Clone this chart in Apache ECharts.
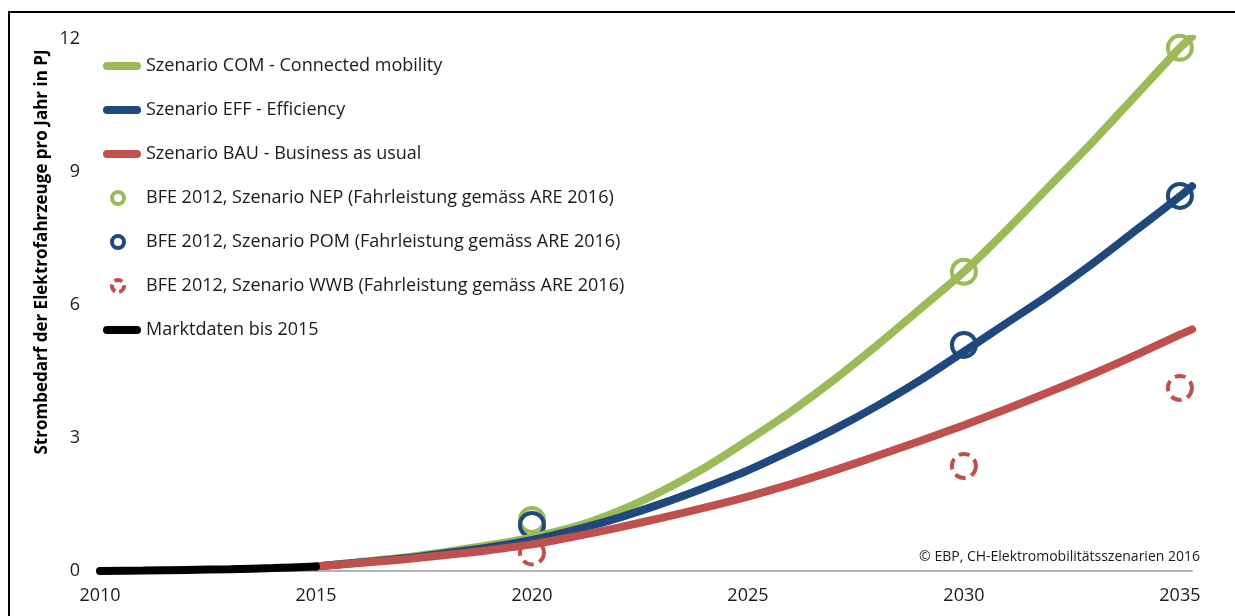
<!DOCTYPE html>
<html>
<head>
<meta charset="utf-8">
<script src="https://cdn.jsdelivr.net/npm/echarts@6/dist/echarts.min.js"></script>
<style>
  html, body { margin: 0; padding: 0; background: #fff; }
  #chart { width: 1235px; height: 616px; }
  /* schwarzer Rahmen oben/links */
  #frame { position: absolute; left: 8px; top: 11px; right: 0; bottom: 0;
           border-top: 2px solid #000; border-left: 2px solid #000; pointer-events: none; }
</style>
</head>
<body>
<div id="chart"></div>
<div id="frame"></div>
<script>
// Marktdaten
var histYears = [2010, 2011, 2012, 2013, 2014, 2015];
var histValues = [0, 0.01, 0.025, 0.04, 0.065, 0.1];

// Szenarien (PJ)
var scenYears = [2015, 2016, 2017, 2018, 2019, 2020, 2021, 2022, 2023, 2024, 2025,
                 2026, 2027, 2028, 2029, 2030, 2031, 2032, 2033, 2034, 2035, 2035.28];
var comValues = [0.1, 0.2, 0.3, 0.43, 0.58, 0.76, 1.0, 1.35, 1.8, 2.33, 2.95,
                 3.6, 4.32, 5.1, 5.92, 6.75, 7.7, 8.7, 9.7, 10.75, 11.8, 12.05];
var effValues = [0.1, 0.19, 0.28, 0.4, 0.53, 0.7, 0.93, 1.2, 1.52, 1.88, 2.27,
                 2.72, 3.2, 3.73, 4.31, 4.95, 5.6, 6.25, 6.95, 7.7, 8.45, 8.68];
var bauValues = [0.1, 0.18, 0.26, 0.36, 0.47, 0.6, 0.78, 0.98, 1.2, 1.43, 1.68,
                 1.96, 2.27, 2.6, 2.94, 3.29, 3.66, 4.05, 4.45, 4.88, 5.33, 5.45];

// BFE 2012
var bfeYears = [2020, 2030, 2035];
var nepValues = [1.15, 6.75, 11.8];
var pomValues = [1.04, 5.1, 8.46];
var wwbValues = [0.42, 2.37, 4.13];

var xTicks = [2010, 2015, 2020, 2025, 2030, 2035];

var GREEN = '#9BBB59', BLUE = '#1F497D', RED = '#C0504D';
var FONT = '"Open Sans", "Noto Sans", sans-serif';

function pairs(xs, ys) {
  return xs.map(function (x, i) { return [x, ys[i]]; });
}

var pill = 'path://M4,0 L34,0 A4,4 0 0 1 34,8 L4,8 A4,4 0 0 1 4,0 Z';

function lineSeries(name, xs, ys, color) {
  return {
    name: name, type: 'line', data: pairs(xs, ys), smooth: 0.3,
    showSymbol: false, symbol: 'none', z: 3,
    lineStyle: { color: color, width: 8, cap: 'round' },
    itemStyle: { color: color }
  };
}

function ringSeries(name, ys, color, dashed) {
  return {
    name: name, type: 'scatter', data: pairs(bfeYears, ys), symbol: 'circle',
    symbolSize: 24, z: 2,
    itemStyle: { color: 'rgba(0,0,0,0)', borderColor: color, borderWidth: 4, opacity: 1,
                 borderType: dashed ? [11, 6] : 'solid' }
  };
}

var legendText = { fontFamily: FONT, fontSize: 18, color: '#1a1a1a' };

var chart = echarts.init(document.getElementById('chart'));
chart.setOption({
  animation: false,
  grid: { left: 100, right: 43, top: 39, bottom: 45 },
  legend: [{
    left: 98, top: 52, orient: 'vertical', itemWidth: 38, itemHeight: 8, itemGap: 26,
    textStyle: legendText,
    data: [
      { name: 'Szenario COM - Connected mobility', icon: pill },
      { name: 'Szenario EFF - Efficiency', icon: pill },
      { name: 'Szenario BAU - Business as usual', icon: pill }
    ]
  }, {
    left: 105, top: 184, orient: 'vertical', itemWidth: 38, itemHeight: 12, itemGap: 26,
    textStyle: { fontFamily: FONT, fontSize: 18, color: '#1a1a1a', padding: [0, 0, 0, 4] },
    data: [
      { name: 'BFE 2012, Szenario NEP (Fahrleistung gemäss ARE 2016)', icon: 'circle',
        itemStyle: { color: 'rgba(0,0,0,0)', borderColor: GREEN, borderWidth: 4, opacity: 1 } },
      { name: 'BFE 2012, Szenario POM (Fahrleistung gemäss ARE 2016)', icon: 'circle',
        itemStyle: { color: 'rgba(0,0,0,0)', borderColor: BLUE, borderWidth: 4, opacity: 1 } },
      { name: 'BFE 2012, Szenario WWB (Fahrleistung gemäss ARE 2016)', icon: 'circle',
        itemStyle: { color: 'rgba(0,0,0,0)', borderColor: RED, borderWidth: 4, opacity: 1, borderType: [8, 4] } }
    ]
  }, {
    left: 98, top: 316, orient: 'vertical', itemWidth: 38, itemHeight: 8,
    textStyle: legendText,
    data: [{ name: 'Marktdaten bis 2015', icon: pill }]
  }],
  xAxis: {
    type: 'value', min: 2010, max: 2035.28, interval: 5,
    axisLine: { lineStyle: { color: '#B4B4B4', width: 2 } },
    axisTick: { show: false },
    splitLine: { show: false },
    axisLabel: {
      margin: 16, fontFamily: FONT, fontSize: 18, color: '#1a1a1a',
      formatter: function (v) { return xTicks.indexOf(v) >= 0 ? String(v) : ''; }
    }
  },
  yAxis: {
    type: 'value', min: 0, max: 12, interval: 3,
    axisLine: { show: false }, axisTick: { show: false }, splitLine: { show: false },
    axisLabel: { margin: 20, fontFamily: FONT, fontSize: 18, color: '#1a1a1a' }
  },
  graphic: [{
    // Achsentitel, nach oben versetzt wie im Original
    type: 'text', x: 42, y: 252, rotation: Math.PI / 2,
    style: { text: 'Strombedarf der Elektrofahrzeuge pro Jahr in PJ',
             font: 'bold 17px ' + FONT, fill: '#000', align: 'center', verticalAlign: 'middle' }
  }, {
    type: 'text', right: 35, top: 550,
    style: { text: '© EBP, CH-Elektromobilitätsszenarien 2016', font: '14px ' + FONT, fill: '#1a1a1a' }
  }],
  series: [
    ringSeries('BFE 2012, Szenario NEP (Fahrleistung gemäss ARE 2016)', nepValues, GREEN, false),
    ringSeries('BFE 2012, Szenario POM (Fahrleistung gemäss ARE 2016)', pomValues, BLUE, false),
    ringSeries('BFE 2012, Szenario WWB (Fahrleistung gemäss ARE 2016)', wwbValues, RED, true),
    lineSeries('Szenario COM - Connected mobility', scenYears, comValues, GREEN),
    lineSeries('Szenario EFF - Efficiency', scenYears, effValues, BLUE),
    lineSeries('Szenario BAU - Business as usual', scenYears, bauValues, RED),
    lineSeries('Marktdaten bis 2015', histYears, histValues, '#000')
  ]
});
</script>
</body>
</html>
